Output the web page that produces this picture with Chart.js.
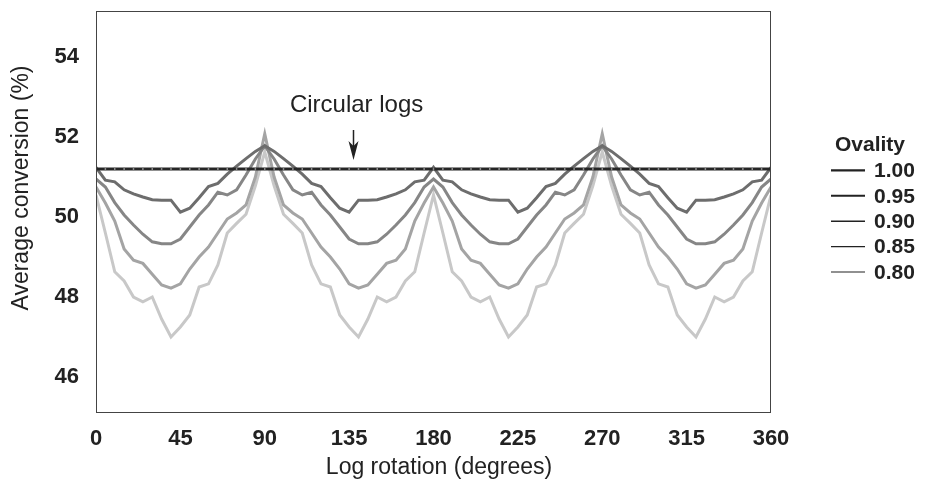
<!DOCTYPE html>
<html>
<head>
<meta charset="utf-8">
<script src="https://cdn.jsdelivr.net/npm/chart.js@4/dist/chart.umd.min.js"></script>
<style>
  html, body { margin: 0; padding: 0; background: #fff; }
</style>
</head>
<body>
<canvas id="grafico" width="934" height="482"></canvas>
<script>
// Log rotation (degrees), one reading every 5 degrees
const degrees = [
  0, 5, 10, 15, 20, 25, 30, 35, 40, 45, 50, 55, 60, 65, 70, 75, 80, 85, 90,
  95, 100, 105, 110, 115, 120, 125, 130, 135, 140, 145, 150, 155, 160, 165, 170, 175, 180,
  185, 190, 195, 200, 205, 210, 215, 220, 225, 230, 235, 240, 245, 250, 255, 260, 265, 270,
  275, 280, 285, 290, 295, 300, 305, 310, 315, 320, 325, 330, 335, 340, 345, 350, 355, 360
];

const ovality = ['1.00', '0.95', '0.90', '0.85', '0.80'];

// Average conversion (%) per ovality
const circular = [
  51.2, 51.2, 51.2, 51.2, 51.2, 51.2, 51.2, 51.2, 51.2, 51.2, 51.2, 51.2, 51.2, 51.2, 51.2, 51.2, 51.2, 51.2, 51.2,
  51.2, 51.2, 51.2, 51.2, 51.2, 51.2, 51.2, 51.2, 51.2, 51.2, 51.2, 51.2, 51.2, 51.2, 51.2, 51.2, 51.2, 51.2,
  51.2, 51.2, 51.2, 51.2, 51.2, 51.2, 51.2, 51.2, 51.2, 51.2, 51.2, 51.2, 51.2, 51.2, 51.2, 51.2, 51.2, 51.2,
  51.2, 51.2, 51.2, 51.2, 51.2, 51.2, 51.2, 51.2, 51.2, 51.2, 51.2, 51.2, 51.2, 51.2, 51.2, 51.2, 51.2, 51.2
];
const ov095 = [
  51.24, 50.92, 50.88, 50.68, 50.58, 50.50, 50.43, 50.42, 50.42, 50.12, 50.22, 50.48, 50.76, 50.84, 51.07, 51.27, 51.46, 51.64, 51.78,
  51.64, 51.46, 51.27, 51.07, 50.84, 50.76, 50.48, 50.22, 50.12, 50.42, 50.42, 50.43, 50.50, 50.58, 50.68, 50.88, 50.92, 51.24,
  50.92, 50.88, 50.68, 50.58, 50.50, 50.43, 50.42, 50.42, 50.12, 50.22, 50.48, 50.76, 50.84, 51.07, 51.27, 51.46, 51.64, 51.78,
  51.64, 51.46, 51.27, 51.07, 50.84, 50.76, 50.48, 50.22, 50.12, 50.42, 50.42, 50.43, 50.50, 50.58, 50.68, 50.88, 50.92, 51.24
];
const ov090 = [
  50.95, 50.75, 50.36, 50.05, 49.80, 49.57, 49.38, 49.33, 49.33, 49.45, 49.75, 50.05, 50.30, 50.62, 50.55, 50.68, 51.05, 51.45, 51.78,
  51.45, 51.05, 50.68, 50.55, 50.62, 50.30, 50.05, 49.75, 49.45, 49.33, 49.33, 49.38, 49.57, 49.80, 50.05, 50.36, 50.75, 50.95,
  50.75, 50.36, 50.05, 49.80, 49.57, 49.38, 49.33, 49.33, 49.45, 49.75, 50.05, 50.30, 50.62, 50.55, 50.68, 51.05, 51.45, 51.78,
  51.45, 51.05, 50.68, 50.55, 50.62, 50.30, 50.05, 49.75, 49.45, 49.33, 49.33, 49.38, 49.57, 49.80, 50.05, 50.36, 50.75, 50.95
];
const ov085 = [
  50.75, 50.35, 49.90, 49.20, 48.92, 48.84, 48.57, 48.30, 48.22, 48.33, 48.70, 49.00, 49.25, 49.60, 49.95, 50.10, 50.30, 51.00, 52.08,
  51.00, 50.30, 50.10, 49.95, 49.60, 49.25, 49.00, 48.70, 48.33, 48.22, 48.30, 48.57, 48.84, 48.92, 49.20, 49.90, 50.35, 50.75,
  50.35, 49.90, 49.20, 48.92, 48.84, 48.57, 48.30, 48.22, 48.33, 48.70, 49.00, 49.25, 49.60, 49.95, 50.10, 50.30, 51.00, 52.08,
  51.00, 50.30, 50.10, 49.95, 49.60, 49.25, 49.00, 48.70, 48.33, 48.22, 48.30, 48.57, 48.84, 48.92, 49.20, 49.90, 50.35, 50.75
];
const ov080 = [
  50.55, 49.60, 48.63, 48.40, 48.00, 47.88, 48.00, 47.45, 47.00, 47.25, 47.55, 48.25, 48.33, 48.80, 49.60, 49.84, 50.07, 50.78, 51.63,
  50.78, 50.07, 49.84, 49.60, 48.80, 48.33, 48.25, 47.55, 47.25, 47.00, 47.45, 48.00, 47.88, 48.00, 48.40, 48.63, 49.60, 50.55,
  49.60, 48.63, 48.40, 48.00, 47.88, 48.00, 47.45, 47.00, 47.25, 47.55, 48.25, 48.33, 48.80, 49.60, 49.84, 50.07, 50.78, 51.63,
  50.78, 50.07, 49.84, 49.60, 48.80, 48.33, 48.25, 47.55, 47.25, 47.00, 47.45, 48.00, 47.88, 48.00, 48.40, 48.63, 49.60, 50.55
];

const xTicks = [0, 45, 90, 135, 180, 225, 270, 315, 360];
const yTicks = [46, 48, 50, 52, 54];

const pontos = (vals) => vals.map((v, i) => ({ x: degrees[i], y: v }));

const cores = ['#262626', '#6d6d6d', '#868686', '#a4a4a4', '#c8c8c8'];
const espessLegenda = [2.4, 2, 1.4, 1.2, 1.2];

const series = [circular, ov095, ov090, ov085, ov080];

const datasets = series.map((vals, i) => ({
  label: ovality[i],
  data: pontos(vals),
  borderColor: cores[i],
  borderWidth: 3,
  tension: 0,
  pointRadius: i === 0 ? 1.5 : 0,
  pointStyle: 'line',
  rotation: 90,
  pointBorderColor: '#8a8a8a',
  pointBorderWidth: 1.5,
  pointHoverRadius: 0
}));

const fonte = '"Liberation Sans", Arial, sans-serif';

// moldura, anotação, títulos dos eixos e legenda
const extras = {
  id: 'extras',
  afterDraw(chart) {
    const { ctx, chartArea: a, scales: { x, y } } = chart;
    ctx.save();
    ctx.strokeStyle = '#444';
    ctx.lineWidth = 1;
    ctx.strokeRect(a.left + 0.5, a.top + 0.5, a.right - a.left - 1, a.bottom - a.top - 1);

    ctx.fillStyle = '#222';
    ctx.textAlign = 'center';
    ctx.textBaseline = 'middle';

    // título do eixo x
    ctx.font = '23px ' + fonte;
    ctx.fillText('Log rotation (degrees)', 439, 468);

    // título do eixo y
    ctx.save();
    ctx.translate(22, 188);
    ctx.rotate(-Math.PI / 2);
    ctx.fillText('Average conversion (%)', 0, 0);
    ctx.restore();

    // Circular logs
    ctx.font = '24px ' + fonte;
    ctx.textBaseline = 'alphabetic';
    ctx.fillText('Circular logs', x.getPixelForValue(139), y.getPixelForValue(52.63));

    const ax = Math.round(x.getPixelForValue(137)) + 0.5;
    const tip = y.getPixelForValue(51.2) - 9;
    ctx.strokeStyle = '#222';
    ctx.lineWidth = 1.5;
    ctx.beginPath();
    ctx.moveTo(ax, tip - 30);
    ctx.lineTo(ax, tip - 12);
    ctx.stroke();
    ctx.beginPath();
    ctx.moveTo(ax, tip);
    ctx.lineTo(ax - 5, tip - 19);
    ctx.lineTo(ax, tip - 14);
    ctx.lineTo(ax + 5, tip - 19);
    ctx.closePath();
    ctx.fill();

    // legenda
    const lx = 831, tx = 874, y0 = 145, dy = 25.4;
    ctx.font = 'bold 21px ' + fonte;
    ctx.textAlign = 'left';
    ctx.textBaseline = 'middle';
    ctx.fillText('Ovality', 835, y0);
    chart.data.datasets.forEach((ds, i) => {
      const ly = y0 + dy * (i + 1);
      ctx.strokeStyle = '#222';
      ctx.lineWidth = espessLegenda[i];
      ctx.beginPath();
      ctx.moveTo(lx, ly);
      ctx.lineTo(lx + 34, ly);
      ctx.stroke();
      ctx.fillText(ds.label, tx, ly + 1);
    });
    ctx.restore();
  }
};

const ctx = document.getElementById('grafico').getContext('2d');
const grafico = new Chart(ctx, {
  type: 'line',
  data: { datasets },
  plugins: [extras],
  options: {
    responsive: false,
    animation: false,
    devicePixelRatio: 1,
    layout: { padding: { top: 11, right: 163, bottom: 0, left: 0 } },
    plugins: {
      legend: { display: false },
      tooltip: { enabled: false }
    },
    scales: {
      x: {
        type: 'linear',
        min: 0,
        max: 360,
        afterBuildTicks: (s) => { s.ticks = xTicks.map(v => ({ value: v })); },
        afterFit: (s) => { s.height = 69; s.paddingLeft = 0; s.paddingRight = 0; },
        grid: { display: false, drawTicks: false },
        border: { display: false },
        ticks: {
          padding: 13,
          color: '#222',
          maxRotation: 0,
          autoSkip: false,
          font: { family: fonte, size: 22, weight: 'bold' }
        }
      },
      y: {
        min: 45.1,
        max: 55.15,
        afterBuildTicks: (s) => { s.ticks = yTicks.map(v => ({ value: v })); },
        afterFit: (s) => { s.width = 96; s.paddingTop = 0; s.paddingBottom = 0; },
        grid: { display: false, drawTicks: false },
        border: { display: false },
        ticks: {
          padding: 17,
          color: '#222',
          font: { family: fonte, size: 22, weight: 'bold' }
        }
      }
    }
  }
});
</script>
</body>
</html>
